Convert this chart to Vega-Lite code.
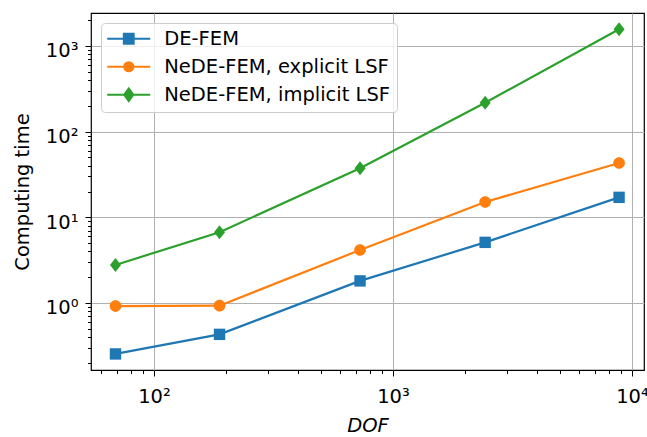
{
  "$schema": "https://vega.github.io/schema/vega-lite/v6.json",
  "width": 553,
  "height": 357,
  "autosize": {"type": "none"},
  "padding": {"left": 91, "top": 13, "right": 3, "bottom": 67},
  "background": "white",
  "config": {
    "font": "DejaVu Sans",
    "view": {"stroke": "black", "strokeWidth": 1.2},
    "axis": {
      "domain": false,
      "labelFont": "DejaVu Sans",
      "labelFontSize": 19.5,
      "labelColor": "black",
      "titleFont": "DejaVu Sans",
      "titleFontSize": 19.5,
      "titleFontWeight": "normal",
      "titleColor": "black",
      "tickColor": "black",
      "tickWidth": 1,
      "gridColor": "#b0b0b0",
      "gridWidth": 1,
      "labelOverlap": false,
      "labelFlush": false
    }
  },
  "data": {
    "values": [
      {"method": "DE-FEM", "dof": 69, "time": 0.254},
      {"method": "DE-FEM", "dof": 188, "time": 0.43},
      {"method": "DE-FEM", "dof": 728, "time": 1.81},
      {"method": "DE-FEM", "dof": 2430, "time": 5.1},
      {"method": "DE-FEM", "dof": 8830, "time": 17.1},
      {"method": "NeDE-FEM, explicit LSF", "dof": 69, "time": 0.92},
      {"method": "NeDE-FEM, explicit LSF", "dof": 188, "time": 0.93},
      {"method": "NeDE-FEM, explicit LSF", "dof": 728, "time": 4.15},
      {"method": "NeDE-FEM, explicit LSF", "dof": 2430, "time": 15.1},
      {"method": "NeDE-FEM, explicit LSF", "dof": 8830, "time": 43},
      {"method": "NeDE-FEM, implicit LSF", "dof": 69, "time": 2.78},
      {"method": "NeDE-FEM, implicit LSF", "dof": 188, "time": 6.7},
      {"method": "NeDE-FEM, implicit LSF", "dof": 728, "time": 37.3},
      {"method": "NeDE-FEM, implicit LSF", "dof": 2430, "time": 218},
      {"method": "NeDE-FEM, implicit LSF", "dof": 8830, "time": 1567}
    ]
  },
  "encoding": {
    "x": {
      "field": "dof",
      "type": "quantitative",
      "scale": {"type": "log", "domain": [54.5, 11227], "nice": false, "zero": false},
      "axis": {
        "title": "DOF",
        "titleFontStyle": "italic",
        "titlePadding": 10,
        "values": [60, 70, 80, 90, 100, 200, 300, 400, 500, 600, 700, 800, 900, 1000, 2000, 3000, 4000, 5000, 6000, 7000, 8000, 9000, 10000],
        "labelExpr": "datum.value == 100 ? '10²' : datum.value == 1000 ? '10³' : datum.value == 10000 ? '10⁴' : ''",
        "labelPadding": 11.5,
        "tickSize": {"condition": {"test": "abs(log(datum.value)/LN10 - round(log(datum.value)/LN10)) < 1e-6", "value": 6}, "value": 3.5},
        "gridOpacity": {"condition": {"test": "abs(log(datum.value)/LN10 - round(log(datum.value)/LN10)) < 1e-6", "value": 1}, "value": 0}
      }
    },
    "y": {
      "field": "time",
      "type": "quantitative",
      "scale": {"type": "log", "domain": [0.165, 2427], "nice": false, "zero": false},
      "axis": {
        "title": "Computing time",
        "titlePadding": 13,
        "values": [0.2, 0.3, 0.4, 0.5, 0.6, 0.7, 0.8, 0.9, 1, 2, 3, 4, 5, 6, 7, 8, 9, 10, 20, 30, 40, 50, 60, 70, 80, 90, 100, 200, 300, 400, 500, 600, 700, 800, 900, 1000, 2000],
        "labelExpr": "datum.value == 1 ? '10⁰' : datum.value == 10 ? '10¹' : datum.value == 100 ? '10²' : datum.value == 1000 ? '10³' : ''",
        "labelPadding": 7,
        "labelOffset": 5,
        "tickSize": {"condition": {"test": "abs(log(datum.value)/LN10 - round(log(datum.value)/LN10)) < 1e-6", "value": 6}, "value": 3.5},
        "gridOpacity": {"condition": {"test": "abs(log(datum.value)/LN10 - round(log(datum.value)/LN10)) < 1e-6", "value": 1}, "value": 0}
      }
    },
    "color": {
      "field": "method",
      "type": "nominal",
      "scale": {
        "domain": ["DE-FEM", "NeDE-FEM, explicit LSF", "NeDE-FEM, implicit LSF"],
        "range": ["#1f77b4", "#ff7f0e", "#2ca02c"]
      },
      "legend": {
        "orient": "none",
        "legendX": 10,
        "legendY": 10,
        "title": null,
        "labelFont": "DejaVu Sans",
        "labelFontSize": 19.5,
        "labelColor": "black",
        "labelLimit": 500,
        "symbolSize": 196,
        "symbolStrokeWidth": 2.2,
        "symbolOffset": 12,
        "labelOffset": 25.75,
        "padding": 6,
        "rowPadding": 7,
        "fillColor": "rgba(255,255,255,0.8)",
        "strokeColor": "#cccccc",
        "cornerRadius": 4,
        "encode": {
          "symbols": {
            "update": {
              "shape": {"signal": "datum.value == 'DE-FEM' ? 'M-3.07,0H3.07M-0.69,-0.69H0.69V0.69H-0.69Z' : datum.value == 'NeDE-FEM, explicit LSF' ? 'M-3.07,0H3.07M0.64,0A0.64,0.64 0 1,1 -0.64,0A0.64,0.64 0 1,1 0.64,0Z' : 'M-3.07,0H3.07M0,-0.86L0.63,0L0,0.86L-0.63,0Z'"},
              "fill": {"signal": "datum.value == 'DE-FEM' ? '#1f77b4' : datum.value == 'NeDE-FEM, explicit LSF' ? '#ff7f0e' : '#2ca02c'"},
              "stroke": {"signal": "datum.value == 'DE-FEM' ? '#1f77b4' : datum.value == 'NeDE-FEM, explicit LSF' ? '#ff7f0e' : '#2ca02c'"},
              "strokeWidth": {"value": 2.2},
              "strokeOpacity": {"value": 1},
              "opacity": {"value": 1},
              "fillOpacity": {"value": 1}
            }
          }
        }
      }
    }
  },
  "layer": [
    {
      "mark": {"type": "line", "strokeWidth": 2.2}
    },
    {
      "transform": [{"filter": "datum.method == 'DE-FEM'"}],
      "mark": {"type": "point", "filled": true, "opacity": 1, "size": 144, "shape": "M-0.95,-0.95H0.95V0.95H-0.95Z"}
    },
    {
      "transform": [{"filter": "datum.method == 'NeDE-FEM, explicit LSF'"}],
      "mark": {"type": "point", "filled": true, "opacity": 1, "size": 144, "shape": "M0.97,0A0.97,0.97 0 1,1 -0.97,0A0.97,0.97 0 1,1 0.97,0Z"}
    },
    {
      "transform": [{"filter": "datum.method == 'NeDE-FEM, implicit LSF'"}],
      "mark": {"type": "point", "filled": true, "opacity": 1, "size": 144, "shape": "M0,-1.17L0.92,0L0,1.17L-0.92,0Z"}
    }
  ]
}
